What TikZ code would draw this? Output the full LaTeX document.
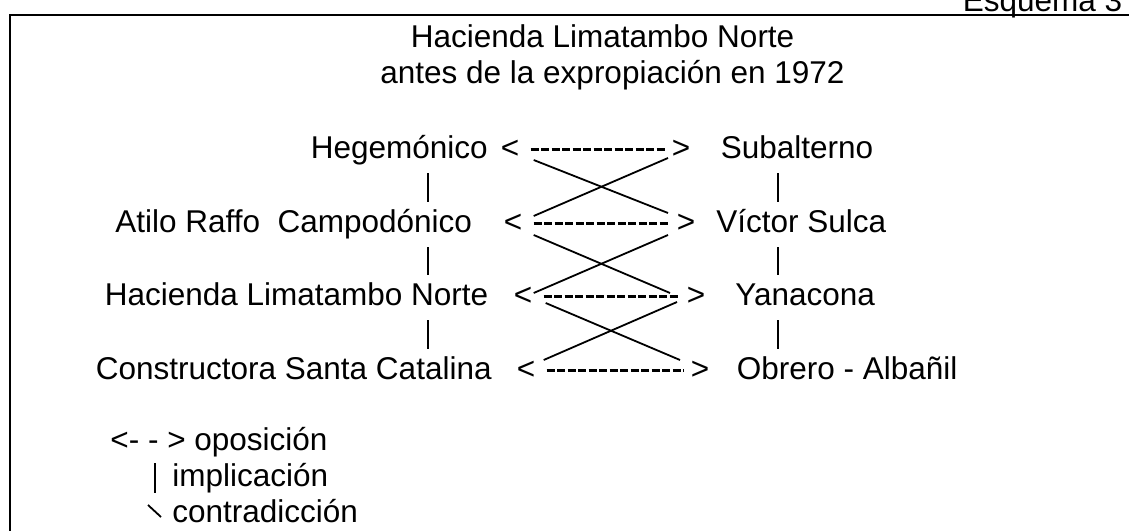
\documentclass[tikz,border=0pt]{standalone}
\usepackage{fontspec}
\setmainfont{Liberation Sans}
\usetikzlibrary{calc}

\begin{document}
\begin{tikzpicture}[
  x=0.5pt, y=-0.5pt,
  font=\fontsize{15.75pt}{18pt}\selectfont,
  term/.style={inner sep=0pt, anchor=base west, text height=12pt, text depth=3.5pt},
  lbl/.style={inner sep=0pt, anchor=base west},
  opos/.style={line width=1.25pt, dash pattern=on 3.9pt off 1.35pt, shorten <=5.5pt, shorten >=3.5pt},
  impl/.style={line width=1.2pt, shorten <=4pt, shorten >=3pt},
  bar/.style={line width=1.2pt},
  contra/.style={line width=0.9pt},
  frame/.style={line width=1.1pt},
]
\useasboundingbox (0,0) rectangle (1129,530);

% frame, runs off the page at right and bottom
\draw[frame] (10,600) |- (1200,15);

% header and title
\node[lbl] (esq) at (962.5,11) {Esquema 3};
\node[lbl] (tit1) at (410.5,47) {Hacienda Limatambo Norte};
\node[lbl] (tit2) at (380,83) {antes de la expropiación en 1972};

% left terms
\node[term] (heg) at (310.5,158) {Hegemónico};
\node[term] (atilo) at (115,232) {Atilo Raffo~~Campodónico};
\node[term] (hac) at (104.5,305) {Hacienda Limatambo Norte};
\node[term] (cons) at (95.5,379) {Constructora Santa Catalina};

% right terms
\node[term] (sub) at (720.5,158) {Subalterno};
\node[term] (sulca) at (716,232) {Víctor Sulca};
\node[term] (yana) at (735,305) {Yanacona};
\node[term] (obrero) at (736.5,379) {Obrero - Albañil};

% < and > marks of each row
\node[term] (lt1) at (500.5,158) {<};
\node[term] (gt1) at (671.5,158) {>};
\node[term] (lt2) at (503.5,232) {<};
\node[term] (gt2) at (676.5,232) {>};
\node[term] (lt3) at (513.5,305) {<};
\node[term] (gt3) at (686.5,305) {>};
\node[term] (lt4) at (516.5,379) {<};
\node[term] (gt4) at (690.5,379) {>};

% oposicion (dashed)
\draw[opos] (lt1) -- (gt1);
\draw[opos] (lt2) -- (gt2);
\draw[opos] (lt3) -- (gt3);
\draw[opos] (lt4) -- (gt4);

% implicacion (bars)
\coordinate (impL) at (428,0);
\coordinate (impR) at (778,0);
\draw[impl] (heg.south -| impL) -- (atilo.north -| impL);
\draw[impl] (atilo.south -| impL) -- (hac.north -| impL);
\draw[impl] (hac.south -| impL) -- (cons.north -| impL);
\draw[impl] (sub.south -| impR) -- (sulca.north -| impR);
\draw[impl] (sulca.south -| impR) -- (yana.north -| impR);
\draw[impl] (yana.south -| impR) -- (obrero.north -| impR);

% contradiccion (crossing lines)
\draw[contra] ($(lt1.east)+(14,10.5)$) -- ($(gt2.west)+(-8.5,-10.5)$);
\draw[contra] ($(gt1.west)+(-3.5,8.5)$) -- ($(lt2.east)+(11,-7.5)$);
\draw[contra] ($(lt2.east)+(11,11.5)$) -- ($(gt3.west)+(-16.5,-3.5)$);
\draw[contra] ($(gt2.west)+(-8.5,11.5)$) -- ($(lt3.east)+(1,-3.5)$);
\draw[contra] ($(lt3.east)+(13,6.5)$) -- ($(gt4.west)+(-10.5,-10.5)$);
\draw[contra] ($(gt3.west)+(-9.5,5.5)$) -- ($(lt4.east)+(8,-10.5)$);

% legend
\node[lbl] (legOpos) at (110,450) {<- - > oposición};
\node[lbl] (legImpl) at (172,486) {implicación};
\node[lbl] (legContra) at (172,522) {contradicción};
\draw[bar] ($(legImpl.base west)+(-17,-23)$) -- ++(0,29.5);
\draw[contra] ($(legContra.base west)+(-24,-17)$) -- ++(13,12);

\end{tikzpicture}
\end{document}
